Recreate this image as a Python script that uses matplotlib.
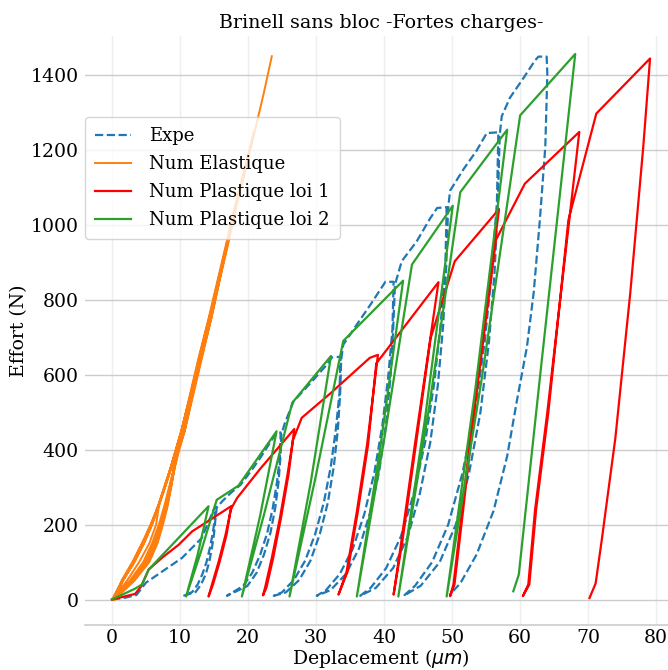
import matplotlib
matplotlib.use("Agg")
import matplotlib.pyplot as plt

plt.rcParams['font.family'] = 'DejaVu Serif'

# Expe (dashed blue): load / unload cycles
expe_x = [0, 2.0, 3.6, 5.0, 7.4, 10.3, 13.2, 14.6, 15.2,
          15.1, 14.8, 14.4, 13.9, 13.3, 12.6, 11.8, 10.5,
          12.3, 13.1, 13.8, 14.3, 14.7, 15.0, 15.2, 15.4,
          16.2, 17.5, 18.9, 20.4, 21.8, 23.3, 24.0, 24.3, 24.8,
          24.68, 24.25, 23.65, 22.83, 21.80, 20.61, 19.27, 16.9,
          19.90, 21.25, 22.35, 23.30, 24.01, 24.48, 24.76, 24.9,
          25.4, 26.7, 29.2, 31.6, 32.3, 33.6,
          33.45, 32.91, 32.18, 31.15, 29.88, 28.41, 26.74, 24.98, 23.8,
          25.56, 27.52, 29.19, 30.56, 31.74, 32.62, 33.21, 33.55, 33.7,
          34.0, 36.0, 38.0, 39.9, 40.2, 41.4,
          41.23, 40.61, 39.76, 38.58, 37.11, 35.41, 33.49, 31.46, 30.1,
          32.13, 34.39, 36.32, 37.90, 39.25, 40.27, 40.95, 41.34, 41.6,
          42.6, 44.8, 46.8, 47.8, 49.2,
          49.01, 48.31, 47.36, 46.03, 44.37, 42.47, 40.31, 38.02, 36.5,
          38.79, 41.33, 43.49, 45.26, 46.79, 47.93, 48.69, 49.14, 49.4,
          49.7, 51.7, 53.6, 55.1, 56.8,
          56.59, 55.83, 54.78, 53.33, 51.52, 49.43, 47.07, 44.57, 42.9,
          45.40, 48.18, 50.55, 52.49, 54.16, 55.41, 56.24, 56.73, 57.0,
          57.3, 58.5, 60.5, 62.2, 62.7, 63.9,
          64.0, 63.7, 62.9, 62.0, 61.0, 59.5, 58.1, 56.1, 53.6, 51.2, 49.7]
expe_y = [0, 5, 12, 45, 75, 111, 164, 225, 250,
          212, 175, 138, 100, 68, 40, 20, 10,
          20, 40, 68, 100, 138, 175, 212, 245,
          262, 285, 306, 342, 378, 420, 440, 446, 446,
          379, 312, 245, 178, 120, 71, 36, 10,
          36, 71, 120, 178, 245, 312, 379, 440,
          470, 529, 578, 627, 646, 648,
          551, 454, 356, 259, 175, 104, 52, 19, 10,
          19, 52, 104, 175, 259, 356, 454, 551, 640,
          680, 734, 787, 840, 848, 848,
          721, 594, 466, 339, 229, 136, 68, 25, 10,
          25, 68, 136, 229, 339, 466, 594, 721, 840,
          903, 956, 1018, 1045, 1047,
          890, 733, 576, 419, 283, 168, 84, 31, 10,
          31, 84, 168, 283, 419, 576, 733, 890, 1040,
          1091, 1149, 1198, 1245, 1247,
          1060, 873, 686, 499, 337, 200, 100, 37, 10,
          37, 100, 200, 337, 499, 686, 873, 1060, 1240,
          1290, 1339, 1392, 1439, 1449, 1449,
          1402, 1208, 1013, 820, 674, 528, 383, 237, 120, 43, 14]

# Num Elastique (orange)
elas_x = [0, 1.5, 3.2, 4.6, 5.8, 6.9,
          6.5, 5.5, 4.0, 2.2, 0.1,
          1.6, 3.3, 4.7, 5.9, 6.9, 7.8, 8.7, 9.5, 10.3,
          9.8, 9.1, 8.4, 7.7, 6.9, 5.9, 4.6, 2.6, 0.2,
          1.5, 3.1, 4.5, 5.8, 6.8, 7.8, 8.7, 9.5, 10.3, 11.6, 12.9,
          11.9, 10.7, 9.8, 9.1, 8.5, 7.9, 7.2, 6.2, 4.9, 2.8, 0.3,
          1.6, 3.2, 4.6, 5.8, 6.8, 7.7, 8.6, 9.4, 10.2, 11.6, 12.9, 14.3, 15.6,
          14.5, 13.2, 11.9, 10.6, 9.8, 9.1, 8.6, 8.0, 7.3, 6.4, 5.1, 3.0, 0.3,
          1.4, 3.0, 4.4, 5.7, 6.8, 7.7, 8.6, 9.4, 10.2, 11.6, 12.9, 14.3, 15.6,
          16.9, 18.1,
          17.0, 15.8, 14.6, 13.2, 11.9, 10.6, 9.8, 9.2, 8.7, 8.1, 7.4, 6.6, 5.3, 3.1, 0.4,
          1.5, 3.1, 4.5, 5.7, 6.8, 7.7, 8.6, 9.4, 10.2, 11.5, 12.8, 14.2, 15.5,
          16.8, 18.1, 19.5, 20.9,
          19.7, 18.3, 17.1, 15.8, 14.6, 13.3, 12.0, 10.7, 9.9, 9.2, 8.7, 8.2, 7.5,
          6.7, 5.5, 3.3, 0.4,
          1.6, 3.3, 4.7, 5.9, 6.9, 7.8, 8.7, 9.5, 10.3, 11.6, 12.9, 14.3, 15.6,
          16.9, 18.2, 19.6, 21.0, 22.3, 23.5]
elas_y = [0, 50, 100, 150, 200, 250,
          200, 150, 100, 50, 0,
          50, 100, 150, 200, 250, 300, 350, 400, 450,
          400, 350, 300, 250, 200, 150, 100, 50, 0,
          50, 100, 150, 200, 250, 300, 350, 400, 450, 550, 650,
          550, 450, 400, 350, 300, 250, 200, 150, 100, 50, 0,
          50, 100, 150, 200, 250, 300, 350, 400, 450, 550, 650, 750, 850,
          750, 650, 550, 450, 400, 350, 300, 250, 200, 150, 100, 50, 0,
          50, 100, 150, 200, 250, 300, 350, 400, 450, 550, 650, 750, 850,
          950, 1050,
          950, 850, 750, 650, 550, 450, 400, 350, 300, 250, 200, 150, 100, 50, 0,
          50, 100, 150, 200, 250, 300, 350, 400, 450, 550, 650, 750, 850,
          950, 1050, 1150, 1250,
          1150, 1050, 950, 850, 750, 650, 550, 450, 400, 350, 300, 250, 200,
          150, 100, 50, 0,
          50, 100, 150, 200, 250, 300, 350, 400, 450, 550, 650, 750, 850,
          950, 1050, 1150, 1250, 1350, 1450]

# Num Plastique loi 1 (red)
loi1_x = [0, 3.4, 4.3, 5.4, 7.4, 9.8, 11.8, 13.7, 17.6,
          16.7, 15.7, 14.7, 14.2,
          14.85, 15.85, 16.85, 17.45,
          18.4, 21.8, 26.8,
          26.5, 25.8, 24.7, 23.5, 22.5, 22.2,
          22.7, 23.7, 24.85, 25.95, 26.6,
          27.9, 32.1, 37.9, 39.1,
          37.5, 36.0, 34.5, 33.3,
          34.65, 36.15, 37.65, 38.85,
          48.0,
          44.5, 42.5, 41.4,
          42.65, 44.65, 46.85,
          50.4, 56.9,
          53.1, 51.5, 50.2, 49.7,
          50.35, 51.65, 53.25, 56.45,
          60.7, 68.7,
          64.0, 62.2, 61.2, 60.4,
          61.35, 62.35, 64.15, 67.1,
          71.2, 79.1,
          78.1, 76.2, 74.0, 72.0, 71.1, 70.2]
loi1_y = [0, 15, 35, 80, 112, 146, 182, 204, 250,
          173, 102, 40, 8,
          40, 102, 173, 240,
          271, 349, 455,
          413, 333, 218, 111, 31, 11,
          31, 111, 218, 333, 425,
          485, 550, 645, 653,
          413, 235, 75, 13,
          75, 235, 413, 630,
          847,
          410, 150, 13,
          150, 410, 698,
          903, 1042,
          500, 243, 40, 9,
          40, 243, 500, 960,
          1110, 1248,
          500, 240, 40, 9,
          40, 240, 500, 1013,
          1297, 1444,
          1208, 820, 431, 159, 43, 4]

# Num Plastique loi 2 (green)
loi2_x = [0, 3.4, 4.4, 5.4, 14.2,
          12.6, 10.9,
          12.95, 15.4,
          18.6, 24.2,
          21.8, 19.1,
          22.4, 26.5,
          32.2,
          29.2, 26.1,
          29.8, 34.0,
          42.8,
          39.4, 36.0,
          39.95, 44.1,
          50.1,
          46.0, 42.1,
          46.6, 51.2,
          58.1,
          53.4, 49.2,
          54.45, 60.0,
          68.1,
          62.9, 59.8, 59.0]
loi2_y = [0, 29, 40, 80, 249,
          120, 8,
          120, 266,
          304, 449,
          225, 8,
          230, 525,
          650,
          310, 8,
          315, 690,
          851,
          400, 8,
          420, 894,
          1051,
          480, 8,
          510, 1087,
          1254,
          560, 8,
          600, 1292,
          1456,
          591, 66, 22]

x_ticks = [0, 10, 20, 30, 40, 50, 60, 70, 80]
y_ticks = [0, 200, 400, 600, 800, 1000, 1200, 1400]

fig = plt.figure(figsize=(6.68, 6.70), dpi=100)
ax = fig.add_axes([85 / 668, 1 - 625 / 670, (677 - 85) / 668, (625 - 36) / 670])

ax.plot(expe_x, expe_y, color='#1f77b4', linestyle='--', linewidth=1.6, label='Expe')
ax.plot(elas_x, elas_y, color='#ff7f0e', linewidth=1.4, label='Num Elastique')
ax.plot(loi1_x, loi1_y, color='red', linewidth=1.6, label='Num Plastique loi 1')
ax.plot(loi2_x, loi2_y, color='#2ca02c', linewidth=1.6, label='Num Plastique loi 2')

ax.set_xlim(-3.96, 83.06)
ax.set_ylim(-68, 1504)
ax.set_xticks(x_ticks)
ax.set_yticks(y_ticks)
ax.tick_params(axis='both', length=0, labelsize=13.6, pad=4.5)
ax.tick_params(axis='x', pad=3)

ax.grid(axis='y', color='#cccccc', linewidth=1.0)
ax.grid(axis='x', color='#eeeeee', linewidth=1.0)
ax.set_axisbelow(True)
for side in ['top', 'left', 'right']:
    ax.spines[side].set_visible(False)
ax.spines['bottom'].set_color('#cccccc')
ax.spines['bottom'].set_linewidth(1.2)

ax.set_title('Brinell sans bloc -Fortes charges-', fontsize=13.7, pad=6)
ax.set_xlabel(r'Deplacement ($\mu m$)', fontsize=13.6, labelpad=0)
ax.set_ylabel('Effort (N)', fontsize=13.6, labelpad=2)

ax.legend(loc='upper left', bbox_to_anchor=(0.0, 0.862), borderaxespad=0,
          fontsize=13, edgecolor='#cccccc', fancybox=True,
          handletextpad=1.0, borderpad=0.55, labelspacing=0.55)

fig.savefig('out.png', dpi=100)
